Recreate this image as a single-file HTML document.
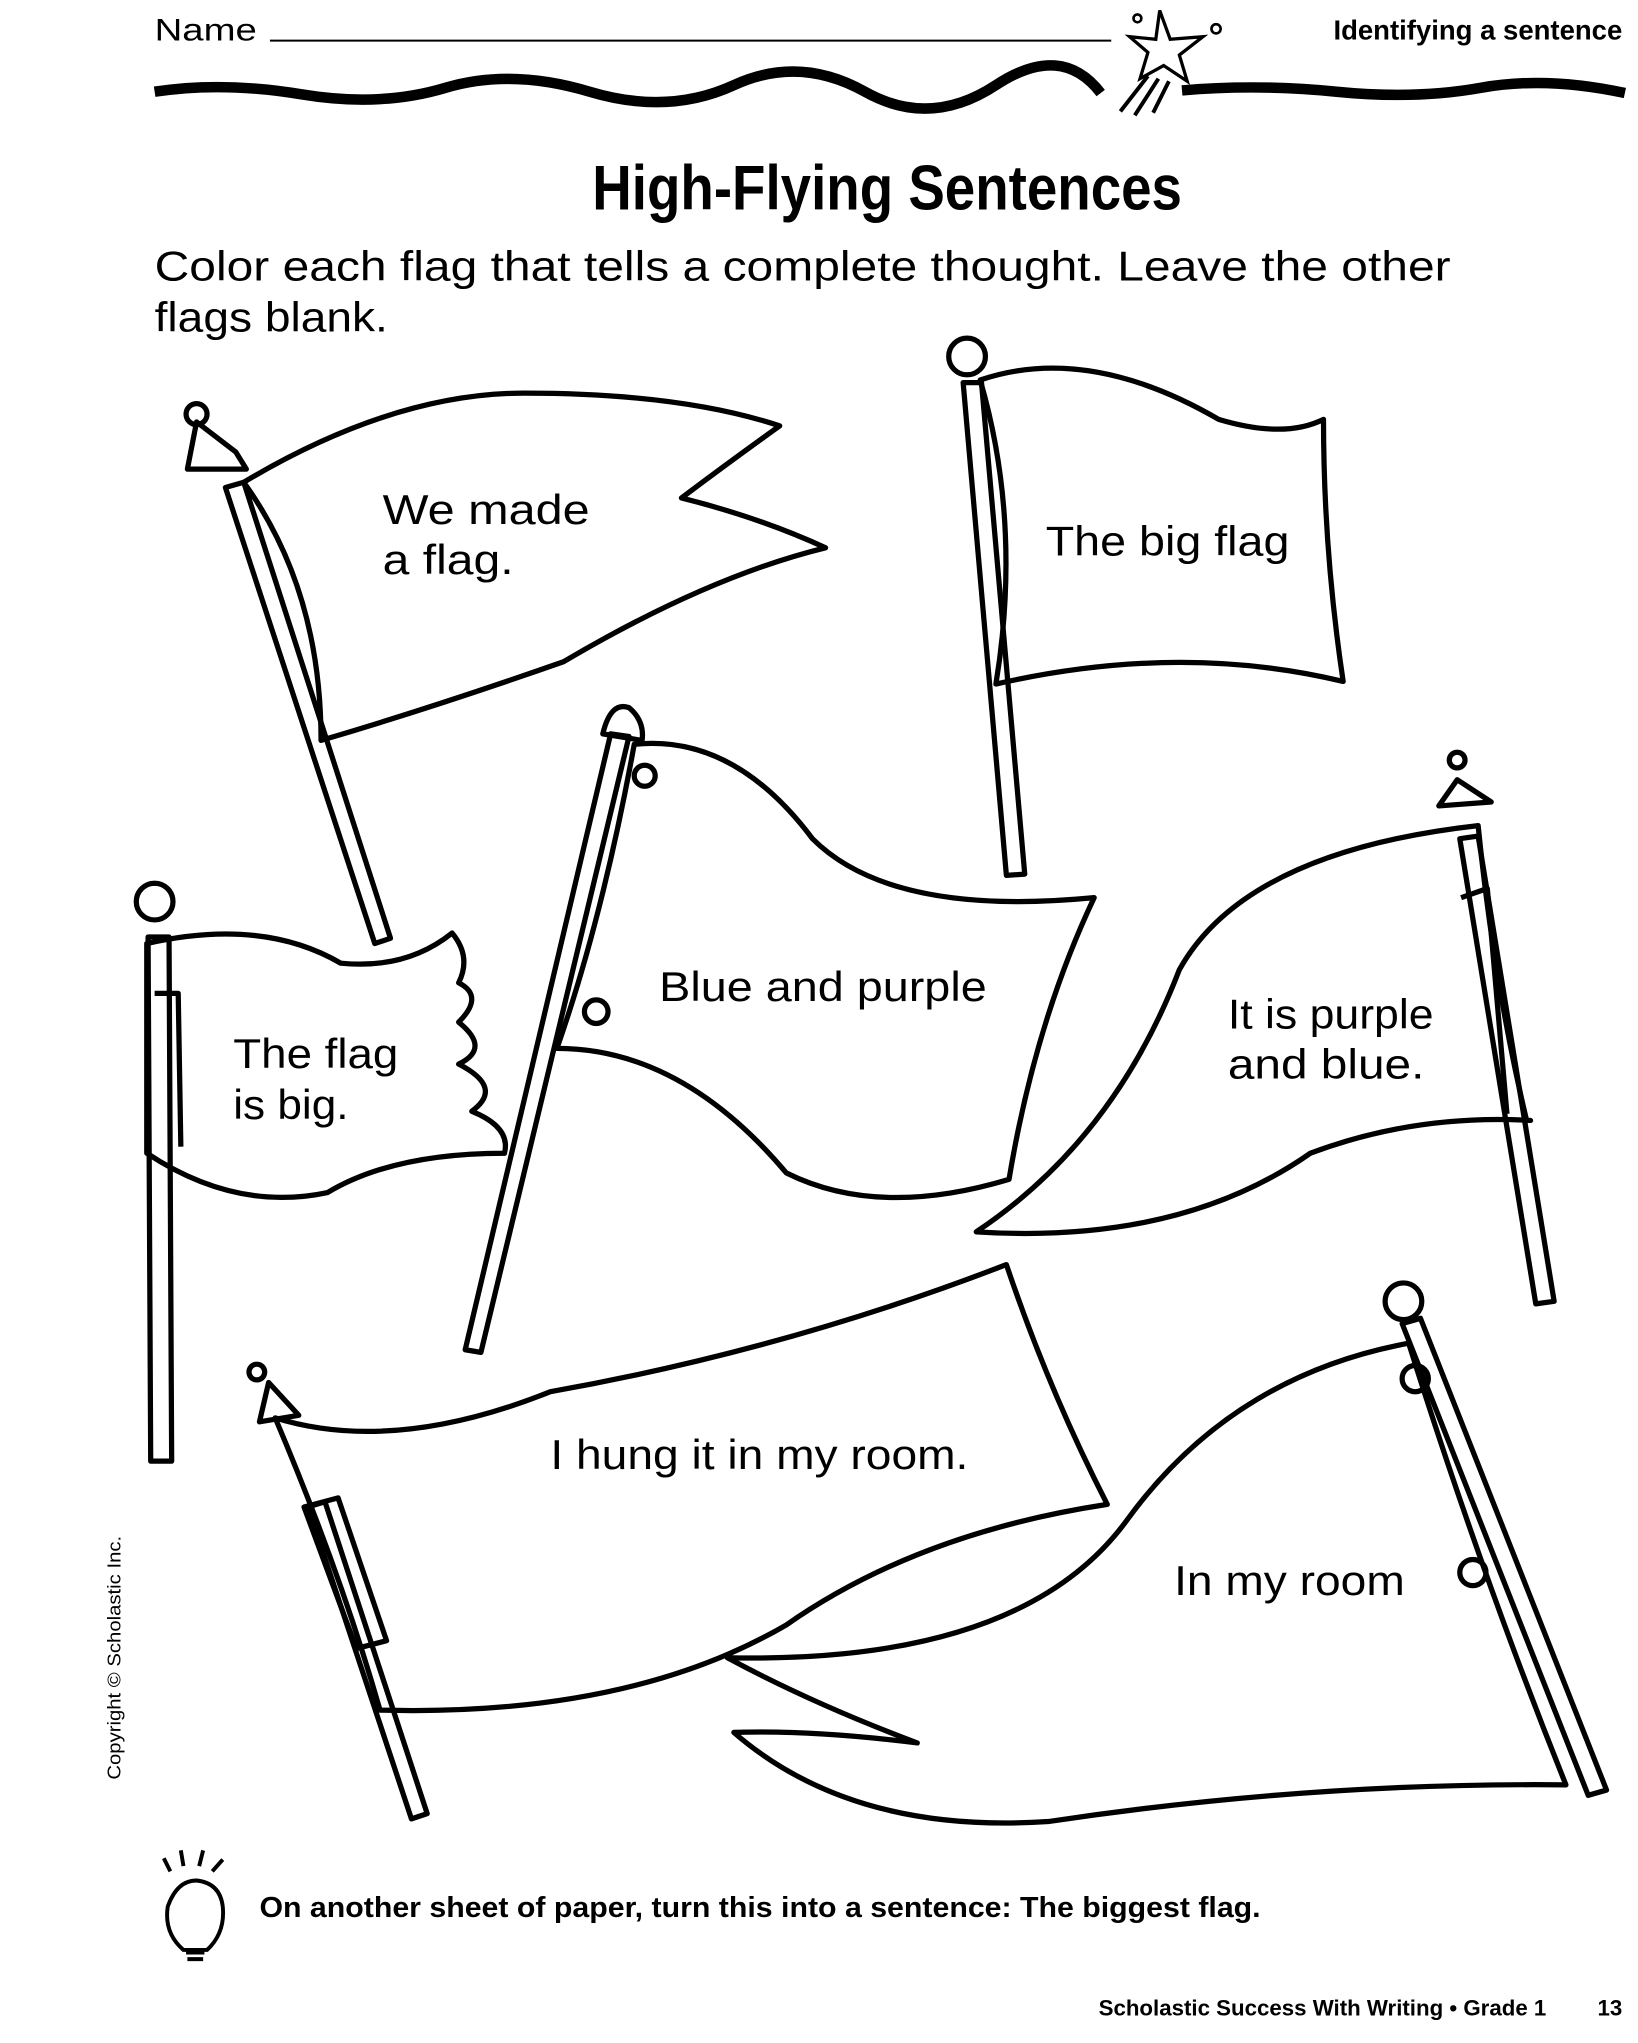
<!DOCTYPE html>
<html><head><meta charset="utf-8"><style>html,body{margin:0;padding:0;background:#fff}svg{display:block}</style></head>
<body>
<svg width="1638" height="2043" viewBox="0 0 1250 1559" preserveAspectRatio="none" xmlns="http://www.w3.org/2000/svg" font-family="Liberation Sans, sans-serif">
<rect width="1250" height="1559" fill="#fff"/>
<text x="118" y="31" font-size="24" textLength="78" lengthAdjust="spacingAndGlyphs">Name</text>
<line x1="206" y1="31" x2="848" y2="31" stroke="#000" stroke-width="1.5"/>
<text x="1238" y="30" font-size="21" font-weight="bold" text-anchor="end">Identifying a sentence</text>
<path d="M118 70 Q170 62 230 72 T340 67 T450 70 T560 65 T660 70 T760 65 T840 71" fill="none" stroke="#000" stroke-width="8"/>
<path d="M902 69 Q960 64 1020 70 T1130 67 T1240 71" fill="none" stroke="#000" stroke-width="8"/>
<path d="M885 8 L893 30 L918 28 L900 42 L906 62 L888 50 L870 60 L876 40 L862 28 L882 30 Z" fill="none" stroke="#000" stroke-width="2.5"/>
<path d="M876 58 L855 85 M884 60 L866 88 M892 62 L880 86" stroke="#000" stroke-width="3"/>
<circle cx="868" cy="14" r="3" fill="none" stroke="#000" stroke-width="2"/><circle cx="928" cy="22" r="3.5" fill="none" stroke="#000" stroke-width="2"/>
<text x="452" y="160" font-size="48" font-weight="bold" textLength="450" lengthAdjust="spacingAndGlyphs">High-Flying Sentences</text>
<text x="118" y="214" font-size="32" textLength="989" lengthAdjust="spacingAndGlyphs">Color each flag that tells a complete thought. Leave the other</text>
<text x="118" y="253" font-size="32" textLength="178" lengthAdjust="spacingAndGlyphs">flags blank.</text>
<g fill="none" stroke="#000" stroke-width="4" stroke-linejoin="round">
<path d="M172 372 L286 720 L298 716 L186 368 Z"/>
<path d="M143 358 L150 322 L180 345 L188 358 Z"/><circle cx="150" cy="316" r="8"/>
<path d="M186 368 Q300 300 400 300 Q520 300 595 325 Q560 350 520 380 Q580 395 630 418 Q540 440 430 505 Q330 540 245 565 Q245 450 186 368 Z"/>
<path d="M735 292 L768 668 L782 667 L749 292 Z"/><circle cx="738" cy="272" r="14"/>
<path d="M748 290 Q830 262 930 320 Q980 335 1010 320 Q1010 420 1025 520 Q900 490 760 522 Q780 400 748 290 Z"/>
<path d="M113 715 L115 1115 L131 1115 L129 715 Z"/><circle cx="118" cy="688" r="14"/>
<path d="M112 720 Q200 700 260 735 Q310 740 345 712 Q360 730 350 750 Q370 760 350 780 Q375 800 350 812 Q385 830 360 848 Q390 860 385 880 Q300 880 250 910 Q180 925 112 880 Z"/>
<path d="M118 758 L136 758 L138 875"/>
<path d="M466 560 L355 1030 L367 1032 L480 562 Z"/><path d="M460 560 Q466 535 480 540 Q492 550 490 565 Z"/>
<circle cx="492" cy="592" r="8"/><circle cx="455" cy="772" r="9"/>
<path d="M484 568 Q560 560 620 640 Q680 700 835 685 Q790 780 770 900 Q670 930 600 895 Q520 800 425 800 Q460 700 484 568 Z"/>
<path d="M1114 640 L1172 995 L1186 993 L1128 638 Z"/><path d="M1098 615 L1112 595 L1138 612 Z"/><circle cx="1112" cy="580" r="6"/>
<path d="M1128 630 Q950 650 900 740 Q850 870 745 940 Q900 950 1000 880 Q1080 850 1168 855 L1165 855 Q1140 750 1128 630 Z"/>
<path d="M1115 685 L1135 678 L1150 850"/>
<path d="M235 1150 L314 1388 L326 1384 L248 1146 Z"/><path d="M198 1085 L205 1055 L228 1080 Z"/><circle cx="196" cy="1047" r="6"/>
<path d="M210 1082 Q300 1110 420 1062 Q600 1030 768 965 Q800 1060 845 1148 Q700 1170 600 1240 Q480 1310 290 1305 Q260 1200 210 1082 Z"/>
<path d="M232 1150 L258 1143 L295 1252 L272 1258 Z"/>
<path d="M1070 1010 L1212 1370 L1226 1366 L1084 1006 Z"/><circle cx="1071" cy="993" r="14"/>
<circle cx="1080" cy="1052" r="10"/><circle cx="1124" cy="1200" r="10"/>
<path d="M1075 1025 Q940 1050 860 1160 Q780 1270 555 1265 Q620 1300 700 1330 Q620 1320 560 1322 Q650 1400 800 1390 Q1000 1360 1195 1362 Q1130 1200 1075 1025 Z"/>
</g>
<g font-size="32" lengthAdjust="spacingAndGlyphs">
<text x="292" y="400" textLength="158" lengthAdjust="spacingAndGlyphs">We made</text><text x="292" y="438" textLength="100" lengthAdjust="spacingAndGlyphs">a flag.</text>
<text x="798" y="424" textLength="186" lengthAdjust="spacingAndGlyphs">The big flag</text>
<text x="178" y="815" textLength="126" lengthAdjust="spacingAndGlyphs">The flag</text><text x="178" y="854" textLength="88" lengthAdjust="spacingAndGlyphs">is big.</text>
<text x="503" y="764" textLength="250" lengthAdjust="spacingAndGlyphs">Blue and purple</text>
<text x="937" y="785" textLength="157" lengthAdjust="spacingAndGlyphs">It is purple</text><text x="937" y="823" textLength="150" lengthAdjust="spacingAndGlyphs">and blue.</text>
<text x="420" y="1121" textLength="319" lengthAdjust="spacingAndGlyphs">I hung it in my room.</text>
<text x="896" y="1217" textLength="176" lengthAdjust="spacingAndGlyphs">In my room</text>
</g>
<text x="92" y="1358" font-size="14" transform="rotate(-90 92 1358)" textLength="186" lengthAdjust="spacingAndGlyphs">Copyright © Scholastic Inc.</text>
<g fill="none" stroke="#000" stroke-width="3">
<path d="M140 1488 Q125 1475 128 1455 Q135 1435 150 1435 Q168 1437 170 1455 Q172 1475 158 1488 Z"/>
<path d="M142 1490 L156 1490 M143 1495 L155 1495"/>
<path d="M130 1428 L125 1418 M140 1424 L138 1412 M152 1424 L155 1412 M162 1428 L170 1419"/>
</g>
<text x="198" y="1463" font-size="22" font-weight="bold" textLength="764" lengthAdjust="spacingAndGlyphs">On another sheet of paper, turn this into a sentence: The biggest flag.</text>
<text x="1180" y="1538" font-size="17" font-weight="bold" text-anchor="end">Scholastic Success With Writing • Grade 1</text>
<text x="1238" y="1538" font-size="17" font-weight="bold" text-anchor="end">13</text>
</svg>
</body></html>
